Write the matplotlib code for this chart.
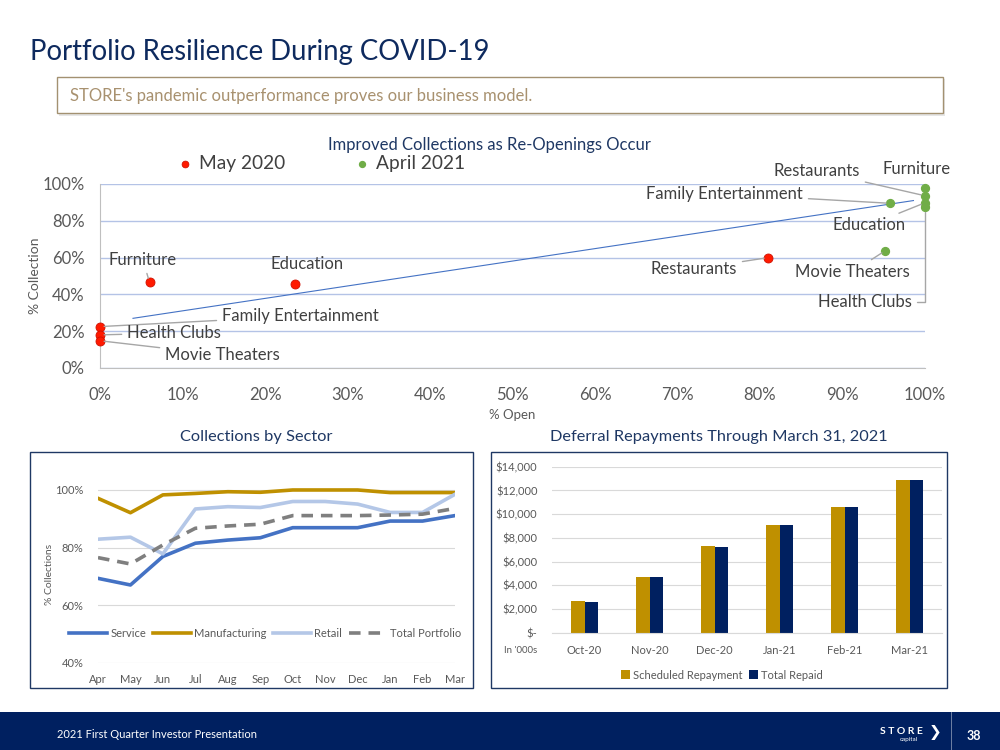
import matplotlib.pyplot as plt
import numpy as np
from matplotlib.patches import Rectangle
from matplotlib.ticker import FuncFormatter

plt.rcParams['font.family'] = ['Lato', 'DejaVu Sans']

# ---------------- data ----------------
sectors = ['Furniture', 'Education', 'Restaurants', 'Family Entertainment', 'Health Clubs', 'Movie Theaters']
may_open = [0.06, 0.236, 0.81, 0.0, 0.0, 0.0]
may_coll = [0.466, 0.456, 0.60, 0.225, 0.18, 0.148]
apr_open = [1.0, 1.0, 1.0, 0.958, 1.0, 0.952]
apr_coll = [0.98, 0.898, 0.936, 0.895, 0.873, 0.638]

# trend line as drawn on the slide
trend_open = [0.04, 0.986]
trend_coll = [0.27, 0.91]

months = ['Apr', 'May', 'Jun', 'Jul', 'Aug', 'Sep', 'Oct', 'Nov', 'Dec', 'Jan', 'Feb', 'Mar']
service = [69.3, 67.0, 76.9, 81.5, 82.6, 83.4, 86.9, 86.9, 86.9, 89.2, 89.2, 91.1]
manufacturing = [97.1, 92.1, 98.3, 98.8, 99.4, 99.2, 100, 100, 100, 99.1, 99.1, 99.1]
retail = [82.9, 83.6, 77.8, 93.4, 94.2, 93.9, 96.0, 96.0, 95.1, 92.2, 92.2, 98.5]
total_portfolio = [76.5, 74.3, 80.9, 86.7, 87.5, 88.1, 91.1, 91.1, 91.1, 91.3, 91.6, 93.6]

bar_months = ['Oct-20', 'Nov-20', 'Dec-20', 'Jan-21', 'Feb-21', 'Mar-21']
scheduled = [2700, 4670, 7280, 9050, 10630, 12900]
repaid = [2620, 4670, 7220, 9050, 10630, 12900]

navy = '#1f3864'
gray_txt = '#595959'

fig = plt.figure(figsize=(10, 7.5), dpi=100)

# ---------------- header ----------------
fig.text(0.030, 1 - 52 / 750, 'Portfolio Resilience During COVID-19', fontsize=19.8,
         color='#0e2a5e', va='center', ha='left')
fig.patches.append(Rectangle((0.059, 1 - 116 / 750), 0.886, 37 / 750, transform=fig.transFigure,
                             facecolor='#e6e6e6', edgecolor='none', zorder=0))
fig.patches.append(Rectangle((0.057, 1 - 113 / 750), 0.886, 36 / 750, transform=fig.transFigure,
                             facecolor='white', edgecolor='#a39171', lw=1.0, zorder=1))
fig.text(0.070, 1 - 96 / 750, "STORE's pandemic outperformance proves our business model.",
         fontsize=12, color='#a8916f', va='center', ha='left')

fig.text(0.489, 1 - 145 / 750, 'Improved Collections as Re-Openings Occur', fontsize=12,
         color=navy, ha='center', va='center')
fig.text(0.256, 1 - 437 / 750, 'Collections by Sector', fontsize=11.8,
         color=navy, ha='center', va='center')
fig.text(0.719, 1 - 437 / 750, 'Deferral Repayments Through March 31, 2021', fontsize=11.8,
         color=navy, ha='center', va='center')

# ---------------- scatter ----------------
ax = fig.add_axes([0.100, 1 - 368 / 750, 0.825, 184 / 750])
ax.set_xlim(0, 1)
ax.set_ylim(0, 1)
ax.set_xticks(np.arange(0, 1.01, 0.1))
ax.set_yticks(np.arange(0, 1.01, 0.2))
pct = FuncFormatter(lambda v, p: f'{v * 100:.0f}%')
ax.xaxis.set_major_formatter(pct)
ax.yaxis.set_major_formatter(pct)
ax.tick_params(length=0, labelsize=12, labelcolor=gray_txt)
ax.tick_params(axis='x', pad=14)
ax.tick_params(axis='y', pad=11)
ax.grid(axis='y', color='#b4c3e6', lw=1)
for s in ['top', 'right']:
    ax.spines[s].set_visible(False)
for s in ['left', 'bottom']:
    ax.spines[s].set_color('#bfbfbf')
ax.set_axisbelow(True)

ax.plot(trend_open, trend_coll, color='#4472c4', lw=0.8, zorder=2)

ax.scatter(may_open, may_coll, s=42, color='#ff1a00', edgecolor='#d01000', lw=0.6, zorder=3,
           label='May 2020', clip_on=False)
ax.scatter(apr_open, apr_coll, s=32, color='#70ad47', edgecolor='#70ad47', zorder=3,
           label='April 2021', clip_on=False)

leader = dict(arrowstyle='-', color='#a6a6a6', lw=1.0, shrinkA=2, shrinkB=3)
lab = dict(fontsize=12, color='#404040', va='center')

# May 2020 labels
ax.annotate('Furniture', (may_open[0], may_coll[0]), xytext=(0.052, 0.587), ha='center',
            arrowprops=leader, **lab)
ax.annotate('Education', (may_open[1], may_coll[1]), xytext=(0.251, 0.565), ha='center', **lab)
ax.annotate('Restaurants', (may_open[2], may_coll[2]), xytext=(0.772, 0.538), ha='right',
            arrowprops=leader, **lab)
ax.annotate('Family Entertainment', (may_open[3], may_coll[3]), xytext=(0.148, 0.282), ha='left',
            arrowprops=leader, **lab)
ax.annotate('Health Clubs', (may_open[4], may_coll[4]), xytext=(0.033, 0.190), ha='left',
            arrowprops=leader, **lab)
ax.annotate('Movie Theaters', (may_open[5], may_coll[5]), xytext=(0.079, 0.071), ha='left',
            arrowprops=leader, **lab)

# April 2021 labels
ax.annotate('Furniture', (apr_open[0], apr_coll[0]), xytext=(0.948, 1.082), ha='left',
            annotation_clip=False, **lab)
ax.annotate('Restaurants', (apr_open[2], apr_coll[2]), xytext=(0.921, 1.071), ha='right',
            annotation_clip=False, arrowprops=leader, **lab)
ax.annotate('Family Entertainment', (apr_open[3], apr_coll[3]), xytext=(0.852, 0.946), ha='right',
            arrowprops=leader, **lab)
ax.annotate('Education', (apr_open[1], apr_coll[1]), xytext=(0.977, 0.777), ha='right',
            arrowprops=leader, **lab)
ax.annotate('Movie Theaters', (apr_open[5], apr_coll[5]), xytext=(0.912, 0.522), ha='center',
            arrowprops=leader, **lab)
ax.annotate('Health Clubs', (apr_open[4], apr_coll[4]), xytext=(0.984, 0.359), ha='right',
            arrowprops=dict(leader, connectionstyle='angle,angleA=0,angleB=90,rad=0'), **lab)

ax.set_xlabel('% Open', fontsize=9.5, color=gray_txt, labelpad=4)
ax.set_ylabel('% Collection', fontsize=10, color=gray_txt, labelpad=1)
ax.legend(loc='lower center', bbox_to_anchor=(0.268, 1.0), ncol=2, frameon=False,
          fontsize=13.8, labelcolor='#404040', handlelength=0.8, handletextpad=0.35,
          columnspacing=3.6, markerscale=0.75, borderaxespad=0.2)

# ---------------- panel boxes ----------------
for x0, x1 in [(30, 473), (491, 947)]:
    fig.patches.append(Rectangle((x0 / 1000, 1 - 688 / 750), (x1 - x0) / 1000, 236 / 750,
                                 transform=fig.transFigure, facecolor='none',
                                 edgecolor=navy, lw=1.0))

# ---------------- collections by sector ----------------
ax2 = fig.add_axes([0.098, 1 - 662.7 / 750, 0.357, 175.6 / 750])
xi = np.arange(len(months))
ax2.plot(xi, service, color='#4472c4', lw=2.6, label='Service')
ax2.plot(xi, manufacturing, color='#bf9000', lw=2.6, label='Manufacturing')
ax2.plot(xi, retail, color='#b4c7e7', lw=2.6, label='Retail')
ax2.plot(xi, total_portfolio, color='#7f7f7f', lw=2.6, ls=(0, (3.2, 2.2)), label='Total Portfolio')
ax2.set_xlim(0, len(months) - 1)
ax2.set_ylim(40, 101)
ax2.set_yticks([40, 60, 80, 100])
ax2.set_yticklabels(['40%', '60%', '80%', '100%'])
ax2.set_xticks(xi)
ax2.set_xticklabels(months)
ax2.tick_params(length=0, labelsize=8, labelcolor=gray_txt)
ax2.tick_params(axis='y', pad=10.5)
ax2.tick_params(axis='x', pad=8)
ax2.grid(axis='y', color='#d9d9d9', lw=0.8)
ax2.set_axisbelow(True)
for s in ax2.spines.values():
    s.set_visible(False)
ax2.set_ylabel('% Collections', fontsize=7.5, color=gray_txt, labelpad=1)
ax2.legend(loc='center', bbox_to_anchor=(0.468, 0.169), ncol=4, frameon=False, fontsize=8,
           labelcolor=gray_txt, handlelength=3.4, handletextpad=0.3, columnspacing=0.6)

# ---------------- deferral repayments ----------------
ax3 = fig.add_axes([0.552, 1 - 632.7 / 750, 0.390, 166 / 750])
bx = np.arange(len(bar_months))
w = 0.203
ax3.bar(bx - w / 2, scheduled, w, color='#bf9000', label='Scheduled Repayment', zorder=2)
ax3.bar(bx + w / 2, repaid, w, color='#002060', label='Total Repaid', zorder=2)
ax3.set_xlim(-0.5, len(bar_months) - 0.5)
ax3.set_ylim(0, 14000)
ax3.set_yticks(np.arange(0, 14001, 2000))
ax3.yaxis.set_major_formatter(FuncFormatter(lambda v, p: '$-' if v == 0 else f'${v:,.0f}'))
ax3.set_xticks(bx)
ax3.set_xticklabels(bar_months)
ax3.tick_params(length=0, labelsize=8, labelcolor=gray_txt)
ax3.tick_params(axis='x', pad=9)
ax3.tick_params(axis='y', pad=10.5)
ax3.grid(axis='y', color='#d9d9d9', lw=0.8, zorder=0)
for s in ['top', 'right', 'left']:
    ax3.spines[s].set_visible(False)
ax3.spines['bottom'].set_color('#d9d9d9')
ax3.text(-0.038, -0.105, "In '000s", transform=ax3.transAxes, fontsize=7, color=gray_txt,
         ha='right', va='center')
ax3.legend(loc='center', bbox_to_anchor=(0.436, -0.255), ncol=2, frameon=False, fontsize=8,
           labelcolor=gray_txt, handlelength=0.8, handleheight=0.9, handletextpad=0.3,
           columnspacing=0.6)

# ---------------- footer ----------------
fig.patches.append(Rectangle((0, 0), 1, 38 / 750, transform=fig.transFigure,
                             facecolor='#002060', edgecolor='none'))
fig.text(0.057, 16 / 750, '2021 First Quarter Investor Presentation', fontsize=8,
         color='white', va='center')
fig.text(0.901, 19 / 750, 'S T O R E', fontsize=7.5, color='white', weight='bold',
         ha='center', va='center')
fig.text(0.918, 10 / 750, 'capital', fontsize=4.5, color='white', ha='right', va='center')
fig.text(0.935, 17 / 750, '\u276F', fontsize=11, color='white', ha='center', va='center',
         weight='bold')
fig.add_artist(plt.Line2D([0.951, 0.951], [0, 38 / 750], transform=fig.transFigure,
                          color='#8090b0', lw=0.6))
fig.text(0.974, 14 / 750, '38', fontsize=9, color='white', weight='bold', ha='center', va='center')

fig.savefig('out.png', dpi=100)
